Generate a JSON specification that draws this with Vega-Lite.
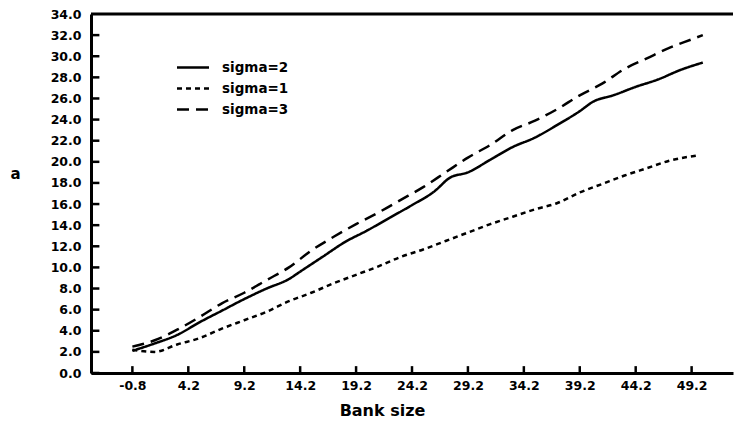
{
  "$schema": "https://vega.github.io/schema/vega-lite/v6.json",
  "width": 642,
  "height": 359,
  "autosize": "none",
  "padding": {"left": 91, "top": 14, "right": 2, "bottom": 52},
  "background": "white",
  "config": {
    "view": {"stroke": null},
    "font": "DejaVu Sans",
    "axis": {"labelFont": "DejaVu Sans", "labelFontWeight": "bold", "labelFontSize": 12.5, "labelColor": "black", "labelOverlap": false, "titleFont": "DejaVu Sans", "titleFontWeight": "bold", "titleFontSize": 16, "titleColor": "black", "domainColor": "black", "domainWidth": 3, "ticks": false, "grid": false}
  },
  "datasets": {
    "curves": [
      {"bank": -0.8, "a": 2.1, "series": "sigma=2"},
      {"bank": 1.2, "a": 2.8, "series": "sigma=2"},
      {"bank": 3.2, "a": 3.6, "series": "sigma=2"},
      {"bank": 5.2, "a": 4.8, "series": "sigma=2"},
      {"bank": 7.2, "a": 5.9, "series": "sigma=2"},
      {"bank": 9.2, "a": 7.0, "series": "sigma=2"},
      {"bank": 11.2, "a": 8.0, "series": "sigma=2"},
      {"bank": 13.2, "a": 8.9, "series": "sigma=2"},
      {"bank": 14.2, "a": 9.6, "series": "sigma=2"},
      {"bank": 16.2, "a": 11.0, "series": "sigma=2"},
      {"bank": 18.2, "a": 12.4, "series": "sigma=2"},
      {"bank": 20.2, "a": 13.5, "series": "sigma=2"},
      {"bank": 22.2, "a": 14.7, "series": "sigma=2"},
      {"bank": 24.2, "a": 15.9, "series": "sigma=2"},
      {"bank": 26.2, "a": 17.2, "series": "sigma=2"},
      {"bank": 27.6, "a": 18.5, "series": "sigma=2"},
      {"bank": 29.2, "a": 19.0, "series": "sigma=2"},
      {"bank": 31.2, "a": 20.2, "series": "sigma=2"},
      {"bank": 33.2, "a": 21.4, "series": "sigma=2"},
      {"bank": 35.2, "a": 22.3, "series": "sigma=2"},
      {"bank": 37.2, "a": 23.5, "series": "sigma=2"},
      {"bank": 39.2, "a": 24.8, "series": "sigma=2"},
      {"bank": 40.4, "a": 25.7, "series": "sigma=2"},
      {"bank": 42.2, "a": 26.3, "series": "sigma=2"},
      {"bank": 44.2, "a": 27.1, "series": "sigma=2"},
      {"bank": 46.2, "a": 27.8, "series": "sigma=2"},
      {"bank": 48.2, "a": 28.7, "series": "sigma=2"},
      {"bank": 50.2, "a": 29.4, "series": "sigma=2"},
      {"bank": -0.8, "a": 2.2, "series": "sigma=1"},
      {"bank": 1.2, "a": 2.0, "series": "sigma=1"},
      {"bank": 3.2, "a": 2.7, "series": "sigma=1"},
      {"bank": 5.2, "a": 3.3, "series": "sigma=1"},
      {"bank": 7.2, "a": 4.2, "series": "sigma=1"},
      {"bank": 9.2, "a": 5.0, "series": "sigma=1"},
      {"bank": 11.2, "a": 5.8, "series": "sigma=1"},
      {"bank": 13.2, "a": 6.8, "series": "sigma=1"},
      {"bank": 15.2, "a": 7.6, "series": "sigma=1"},
      {"bank": 17.2, "a": 8.5, "series": "sigma=1"},
      {"bank": 19.2, "a": 9.3, "series": "sigma=1"},
      {"bank": 21.2, "a": 10.1, "series": "sigma=1"},
      {"bank": 23.2, "a": 11.0, "series": "sigma=1"},
      {"bank": 25.2, "a": 11.7, "series": "sigma=1"},
      {"bank": 27.2, "a": 12.5, "series": "sigma=1"},
      {"bank": 29.2, "a": 13.3, "series": "sigma=1"},
      {"bank": 31.2, "a": 14.1, "series": "sigma=1"},
      {"bank": 33.2, "a": 14.8, "series": "sigma=1"},
      {"bank": 35.2, "a": 15.5, "series": "sigma=1"},
      {"bank": 37.2, "a": 16.1, "series": "sigma=1"},
      {"bank": 39.2, "a": 17.1, "series": "sigma=1"},
      {"bank": 41.2, "a": 17.9, "series": "sigma=1"},
      {"bank": 43.2, "a": 18.7, "series": "sigma=1"},
      {"bank": 45.2, "a": 19.4, "series": "sigma=1"},
      {"bank": 47.2, "a": 20.1, "series": "sigma=1"},
      {"bank": 49.7, "a": 20.6, "series": "sigma=1"},
      {"bank": -0.8, "a": 2.5, "series": "sigma=3"},
      {"bank": 1.2, "a": 3.1, "series": "sigma=3"},
      {"bank": 3.2, "a": 4.1, "series": "sigma=3"},
      {"bank": 5.2, "a": 5.3, "series": "sigma=3"},
      {"bank": 7.2, "a": 6.6, "series": "sigma=3"},
      {"bank": 9.2, "a": 7.6, "series": "sigma=3"},
      {"bank": 11.2, "a": 8.8, "series": "sigma=3"},
      {"bank": 13.2, "a": 10.0, "series": "sigma=3"},
      {"bank": 15.2, "a": 11.6, "series": "sigma=3"},
      {"bank": 17.2, "a": 12.9, "series": "sigma=3"},
      {"bank": 19.2, "a": 14.1, "series": "sigma=3"},
      {"bank": 21.2, "a": 15.2, "series": "sigma=3"},
      {"bank": 23.2, "a": 16.4, "series": "sigma=3"},
      {"bank": 25.2, "a": 17.6, "series": "sigma=3"},
      {"bank": 27.2, "a": 19.0, "series": "sigma=3"},
      {"bank": 29.2, "a": 20.4, "series": "sigma=3"},
      {"bank": 31.2, "a": 21.6, "series": "sigma=3"},
      {"bank": 33.2, "a": 23.0, "series": "sigma=3"},
      {"bank": 35.2, "a": 23.9, "series": "sigma=3"},
      {"bank": 37.2, "a": 25.0, "series": "sigma=3"},
      {"bank": 39.2, "a": 26.3, "series": "sigma=3"},
      {"bank": 41.2, "a": 27.4, "series": "sigma=3"},
      {"bank": 43.2, "a": 28.8, "series": "sigma=3"},
      {"bank": 45.2, "a": 29.8, "series": "sigma=3"},
      {"bank": 47.2, "a": 30.8, "series": "sigma=3"},
      {"bank": 49.2, "a": 31.6, "series": "sigma=3"},
      {"bank": 50.2, "a": 32.0, "series": "sigma=3"}
    ],
    "top": [{"a": 34}],
    "yticks": [{"a": 0}, {"a": 2}, {"a": 4}, {"a": 6}, {"a": 8}, {"a": 10}, {"a": 12}, {"a": 14}, {"a": 16}, {"a": 18}, {"a": 20}, {"a": 22}, {"a": 24}, {"a": 26}, {"a": 28}, {"a": 30}, {"a": 32}],
    "xticks": [{"bank": -0.8}, {"bank": 4.2}, {"bank": 9.2}, {"bank": 14.2}, {"bank": 19.2}, {"bank": 24.2}, {"bank": 29.2}, {"bank": 34.2}, {"bank": 39.2}, {"bank": 44.2}, {"bank": 49.2}]
  },
  "resolve": {"axis": {"y": "independent", "x": "independent"}},
  "layer": [
    {
      "data": {"name": "curves"},
      "mark": {"type": "line", "color": "black", "strokeWidth": 2.5, "interpolate": "monotone"},
      "encoding": {
        "x": {"field": "bank", "type": "quantitative", "title": "Bank size",
          "scale": {"domain": [-4.5, 52.9], "nice": false, "zero": false},
          "axis": {"values": [-0.8, 4.2, 9.2, 14.2, 19.2, 24.2, 29.2, 34.2, 39.2, 44.2, 49.2], "format": ".1f", "labelExpr": "replace(datum.label, '\u2212', '-')", "labelOverlap": false, "labelPadding": 6, "titleX": 291, "titleY": 37, "titleAnchor": null, "titleAlign": "center", "titleBaseline": "middle"}},
        "y": {"field": "a", "type": "quantitative", "title": "a",
          "scale": {"domain": [0, 34], "nice": false},
          "axis": {"values": [0, 2, 4, 6, 8, 10, 12, 14, 16, 18, 20, 22, 24, 26, 28, 30, 32, 34], "format": ".1f", "labelOverlap": false, "labelFlush": false, "labelPadding": 10, "titleAngle": 0, "titleFontSize": 15, "titleX": -76, "titleY": 159, "titleAlign": "center", "titleBaseline": "middle", "titleAnchor": null}},
        "strokeDash": {"field": "series", "type": "nominal",
          "scale": {"domain": ["sigma=2", "sigma=1", "sigma=3"], "range": [[1, 0], [5, 4], [12, 7]]},
          "legend": {"title": null, "orient": "none", "legendX": 92.5, "legendY": 44, "symbolType": "M-2,0H2", "symbolSize": 256, "symbolStrokeWidth": 2.5, "symbolStrokeColor": "black", "labelFont": "DejaVu Sans", "labelFontWeight": "bold", "labelFontSize": 13.5, "labelColor": "black", "labelOffset": 19.5, "rowPadding": 5, "padding": 0}}
      }
    },
    {
      "data": {"name": "top"},
      "mark": {"type": "rule", "color": "black", "strokeWidth": 3},
      "encoding": {"y": {"field": "a", "type": "quantitative", "axis": null}}
    },
    {
      "data": {"name": "yticks"},
      "mark": {"type": "rule", "color": "black", "strokeWidth": 2.5},
      "encoding": {
        "y": {"field": "a", "type": "quantitative", "axis": null},
        "x": {"datum": -4.5, "type": "quantitative", "axis": null},
        "x2": {"datum": -3.75}
      }
    },
    {
      "data": {"name": "xticks"},
      "mark": {"type": "rule", "color": "black", "strokeWidth": 2.5},
      "encoding": {
        "x": {"field": "bank", "type": "quantitative", "axis": null},
        "y": {"datum": 0, "type": "quantitative", "axis": null},
        "y2": {"datum": 0.65}
      }
    }
  ]
}
